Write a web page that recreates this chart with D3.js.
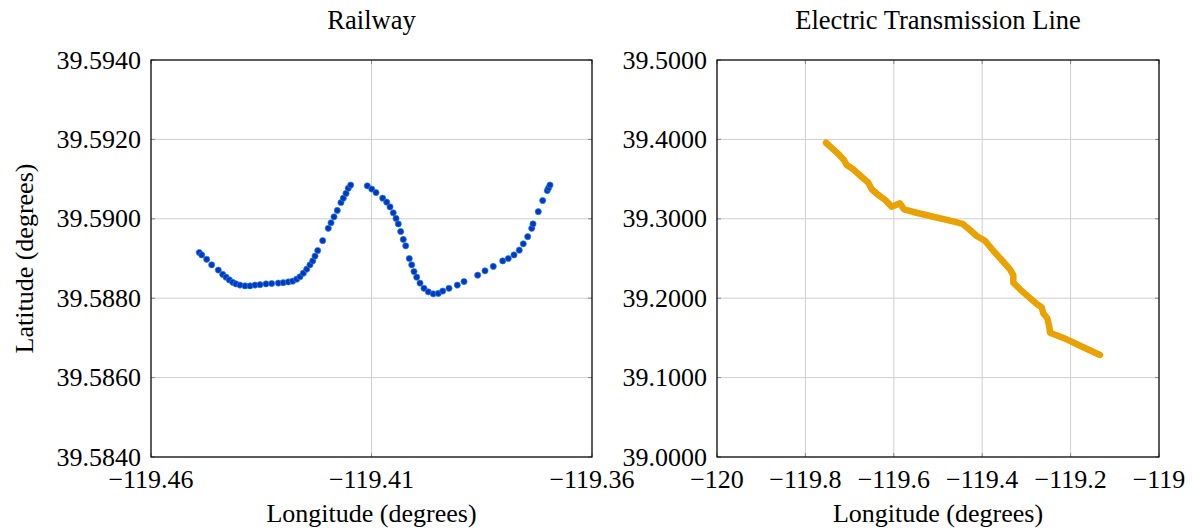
<!DOCTYPE html>
<html>
<head>
<meta charset="utf-8">
<script src="https://cdn.jsdelivr.net/npm/d3@7"></script>
<style>
  body { margin: 0; background: #fff; }
  text { font-family: "Liberation Serif", "Times New Roman", serif; fill: #000; }
</style>
</head>
<body>
<script>
// railway samples [lon, lat]
var railLon = [-119.44905, -119.44850, -119.44737, -119.44624, -119.44474, -119.44374, -119.44299, -119.44224,
  -119.44147, -119.44073, -119.43982, -119.43868, -119.43755, -119.43642, -119.43528, -119.43392, -119.43263,
  -119.43113, -119.43000, -119.42887, -119.42787, -119.42696, -119.42621, -119.42546, -119.42469, -119.42395,
  -119.42333, -119.42281, -119.42220, -119.42107, -119.41980, -119.41918, -119.41850, -119.41776, -119.41692,
  -119.41639, -119.41578, -119.41526, -119.41472,
  -119.41095, -119.40995, -119.40898, -119.40746, -119.40655, -119.40580, -119.40506, -119.40444, -119.40392,
  -119.40338, -119.40279, -119.40224, -119.40143, -119.40088, -119.40036, -119.39975, -119.39900, -119.39810,
  -119.39712, -119.39599, -119.39485, -119.39385, -119.39243, -119.39054, -119.38902, -119.38592, -119.38426,
  -119.38238, -119.38025, -119.37898, -119.37769, -119.37649, -119.37558, -119.37458, -119.37367, -119.37338,
  -119.37218, -119.37118, -119.37014, -119.36983, -119.36952];
var railLat = [39.58915, 39.58909, 39.58898, 39.58884, 39.58871, 39.58860, 39.58853, 39.58846,
  39.58840, 39.58836, 39.58833, 39.58831, 39.58831, 39.58833, 39.58834, 39.58836, 39.58837,
  39.58838, 39.58839, 39.58841, 39.58843, 39.58848, 39.58854, 39.58863, 39.58873, 39.58884,
  39.58894, 39.58906, 39.58920, 39.58945, 39.58976, 39.58990, 39.59005, 39.59021, 39.59041,
  39.59052, 39.59064, 39.59077, 39.59085,
  39.59083, 39.59075, 39.59066, 39.59052, 39.59042, 39.59030, 39.59015, 39.59001, 39.58987,
  39.58968, 39.58948, 39.58932, 39.58900, 39.58884, 39.58867, 39.58853, 39.58838, 39.58825,
  39.58816, 39.58811, 39.58812, 39.58818, 39.58825, 39.58833, 39.58842, 39.58858, 39.58869,
  39.58880, 39.58894, 39.58900, 39.58909, 39.58921, 39.58937, 39.58955, 39.58976, 39.58987,
  39.59018, 39.59046, 39.59071, 39.59078, 39.59085];

// transmission line samples
var lineLon = [-119.7534, -119.7369, -119.7233, -119.7127, -119.7066, -119.6916, -119.6749, -119.6577,
  -119.6500, -119.6351, -119.6176, -119.6048, -119.5860, -119.5769, -119.5559, -119.5106, -119.4729,
  -119.4441, -119.4276, -119.4124, -119.3937, -119.3749, -119.3559, -119.3371, -119.3296, -119.3296,
  -119.3145, -119.2957, -119.2783, -119.2654, -119.2618, -119.2527, -119.2482, -119.2466, -119.2088,
  -119.1713, -119.1335];
var lineLat = [39.3958, 39.3875, 39.3804, 39.3741, 39.3678, 39.3623, 39.3539, 39.3455,
  39.3372, 39.3300, 39.3228, 39.3152, 39.3195, 39.3120, 39.3086, 39.3026, 39.2976,
  39.2935, 39.2859, 39.2783, 39.2724, 39.2598, 39.2481, 39.2364, 39.2292, 39.2195,
  39.2112, 39.2019, 39.1936, 39.1885, 39.1810, 39.1747, 39.1641, 39.1566, 39.1482,
  39.1382, 39.1285];

var railXTicks = [-119.46, -119.41, -119.36];
var railYTicks = [39.584, 39.586, 39.588, 39.590, 39.592, 39.594];
var lineXTicks = [-120, -119.8, -119.6, -119.4, -119.2, -119];
var lineYTicks = [39.0, 39.1, 39.2, 39.3, 39.4, 39.5];

var W = 1192, H = 529;
var plotTop = 60, plotBottom = 457;
var fontSize = 26;

var svg = d3.select("body").append("svg")
  .attr("width", W)
  .attr("height", H);

function minus(s) { return s.replace("-", "\u2212"); }

function panel(opts) {
  var x = d3.scaleLinear().domain(opts.xDomain).range([opts.left, opts.right]);
  var y = d3.scaleLinear().domain(opts.yDomain).range([plotBottom, plotTop]);
  var g = svg.append("g");

  // grid
  g.selectAll("line.gx").data(opts.xTicks).enter().append("line")
    .attr("x1", function(d){return x(d)}).attr("x2", function(d){return x(d)})
    .attr("y1", plotTop).attr("y2", plotBottom)
    .attr("stroke", "#cfcfcf").attr("stroke-width", 1);
  g.selectAll("line.gy").data(opts.yTicks).enter().append("line")
    .attr("y1", function(d){return y(d)}).attr("y2", function(d){return y(d)})
    .attr("x1", opts.left).attr("x2", opts.right)
    .attr("stroke", "#cfcfcf").attr("stroke-width", 1);

  // little tick marks inside the frame
  var tl = 4;
  opts.xTicks.forEach(function(d){
    g.append("line").attr("x1", x(d)).attr("x2", x(d)).attr("y1", plotBottom).attr("y2", plotBottom - tl)
      .attr("stroke", "#888");
    g.append("line").attr("x1", x(d)).attr("x2", x(d)).attr("y1", plotTop).attr("y2", plotTop + tl)
      .attr("stroke", "#888");
  });
  opts.yTicks.forEach(function(d){
    g.append("line").attr("y1", y(d)).attr("y2", y(d)).attr("x1", opts.left).attr("x2", opts.left + tl)
      .attr("stroke", "#888");
    g.append("line").attr("y1", y(d)).attr("y2", y(d)).attr("x1", opts.right).attr("x2", opts.right - tl)
      .attr("stroke", "#888");
  });

  opts.draw(g, x, y);

  // frame
  g.append("rect")
    .attr("x", opts.left).attr("y", plotTop)
    .attr("width", opts.right - opts.left).attr("height", plotBottom - plotTop)
    .attr("fill", "none").attr("stroke", "#000").attr("stroke-width", 1.2);

  // tick labels
  g.selectAll("text.xt").data(opts.xTicks).enter().append("text")
    .attr("x", function(d){return x(d)})
    .attr("y", 488)
    .attr("text-anchor", "middle")
    .attr("font-size", fontSize)
    .text(function(d){return minus(opts.xFmt(d))});
  g.selectAll("text.yt").data(opts.yTicks).enter().append("text")
    .attr("x", opts.left - 10)
    .attr("y", function(d){return y(d)})
    .attr("dy", "0.33em")
    .attr("text-anchor", "end")
    .attr("font-size", fontSize)
    .text(function(d){return d3.format(".4f")(d)});

  // titles
  g.append("text")
    .attr("x", (opts.left + opts.right) / 2).attr("y", 29)
    .attr("text-anchor", "middle").attr("font-size", 26.5)
    .text(opts.title);
  g.append("text")
    .attr("x", (opts.left + opts.right) / 2).attr("y", 522)
    .attr("text-anchor", "middle").attr("font-size", fontSize)
    .text("Longitude (degrees)");
}

panel({
  left: 151, right: 592,
  xDomain: [-119.46, -119.36], yDomain: [39.584, 39.594],
  xTicks: railXTicks, yTicks: railYTicks,
  xFmt: d3.format(".2f"),
  title: "Railway",
  draw: function(g, x, y) {
    var pts = railLon.map(function(d, i){ return [d, railLat[i]]; });
    g.selectAll("circle").data(pts).enter().append("circle")
      .attr("cx", function(d){return x(d[0])})
      .attr("cy", function(d){return y(d[1])})
      .attr("r", 3.1)
      .attr("fill", "#0038c4")
      .attr("stroke", "#2f86d8")
      .attr("stroke-width", 0.7);
  }
});

panel({
  left: 717, right: 1159,
  xDomain: [-120, -119], yDomain: [39.0, 39.5],
  xTicks: lineXTicks, yTicks: lineYTicks,
  xFmt: function(d){ return d3.format("")(+d.toFixed(1)); },
  title: "Electric Transmission Line",
  draw: function(g, x, y) {
    var pts = lineLon.map(function(d, i){ return [d, lineLat[i]]; });
    var line = d3.line().x(function(d){return x(d[0])}).y(function(d){return y(d[1])});
    g.append("path")
      .attr("d", line(pts))
      .attr("fill", "none")
      .attr("stroke", "#e8a202")
      .attr("stroke-width", 6.5)
      .attr("stroke-linecap", "round")
      .attr("stroke-linejoin", "round");
  }
});

// y axis label (left panel only)
svg.append("text")
  .attr("transform", "translate(33," + ((plotTop + plotBottom) / 2) + ") rotate(-90)")
  .attr("text-anchor", "middle")
  .attr("font-size", fontSize)
  .text("Latitude (degrees)");
</script>
</body>
</html>
